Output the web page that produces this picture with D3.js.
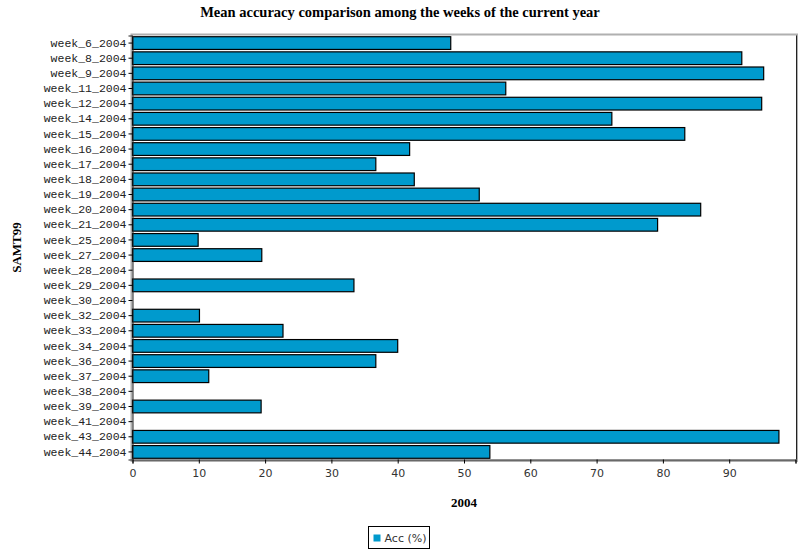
<!DOCTYPE html>
<html>
<head>
<meta charset="utf-8">
<script src="https://cdn.jsdelivr.net/npm/d3@7"></script>
<style>
  body { margin: 0; background: #fff; }
  svg { display: block; }
</style>
</head>
<body>
<script>
var weeks = ["week_6_2004", "week_8_2004", "week_9_2004", "week_11_2004", "week_12_2004",
  "week_14_2004", "week_15_2004", "week_16_2004", "week_17_2004", "week_18_2004",
  "week_19_2004", "week_20_2004", "week_21_2004", "week_25_2004", "week_27_2004",
  "week_28_2004", "week_29_2004", "week_30_2004", "week_32_2004", "week_33_2004",
  "week_34_2004", "week_36_2004", "week_37_2004", "week_38_2004", "week_39_2004",
  "week_41_2004", "week_43_2004", "week_44_2004"];
var acc = [48.0, 91.9, 95.2, 56.3, 94.9,
  72.3, 83.3, 41.8, 36.7, 42.5,
  52.3, 85.7, 79.2, 9.9, 19.5,
  0, 33.4, 0, 10.1, 22.7,
  40.0, 36.7, 11.5, 0, 19.4,
  0, 97.5, 53.9];
var xTicks = [0, 10, 20, 30, 40, 50, 60, 70, 80, 90, 100];

var width = 800,
  height = 555,
  plotLeft = 132.5,
  plotRight = 795.5,
  plotTop = 35.5,
  plotBottom = 459.5;

var svg = d3.select('body')
  .append('svg')
  .attr('width', width)
  .attr('height', height);

svg.append('text')
  .attr('x', 400)
  .attr('y', 17)
  .attr('text-anchor', 'middle')
  .style('font-family', '"Liberation Serif", serif')
  .style('font-weight', 'bold')
  .style('font-size', '14.5px')
  .text('Mean accuracy comparison among the weeks of the current year');

var xScale = d3.scaleLinear().domain([0, 100]).range([plotLeft, plotRight]);
var yScale = d3.scaleBand().domain(weeks).range([plotTop, plotBottom]).paddingInner(0.16).paddingOuter(0.08);

// plot frame
svg.append('rect')
  .attr('x', plotLeft - 1)
  .attr('y', plotTop - 1)
  .attr('width', plotRight - plotLeft + 2.5)
  .attr('height', plotBottom - plotTop + 2.5)
  .attr('fill', '#fff')
  .attr('stroke', '#b0b0b0')
  .attr('stroke-width', 2);
svg.append('line')
  .attr('x1', plotRight + 1).attr('x2', plotRight + 1)
  .attr('y1', plotTop).attr('y2', plotBottom)
  .attr('stroke', '#222');

svg.selectAll('rect.bar')
  .data(acc)
  .enter()
  .append('rect')
  .attr('class', 'bar')
  .attr('x', xScale(0))
  .attr('y', (d, i) => yScale(weeks[i]))
  .attr('width', d => xScale(d) - xScale(0))
  .attr('height', yScale.bandwidth())
  .attr('fill', '#009acd')
  .attr('stroke', d => d > 0 ? '#000' : 'none')
  .attr('stroke-width', 1.2);

var xAxis = d3.axisBottom(xScale)
  .tickValues(xTicks)
  .tickSize(4)
  .tickPadding(6)
  .tickFormat(d => d < 100 ? d : '');
var gx = svg.append('g')
  .attr('transform', 'translate(0,' + plotBottom + ')')
  .call(xAxis);
gx.select('.domain').attr('stroke', '#222');
gx.selectAll('text')
  .style('font-family', '"DejaVu Sans", sans-serif')
  .style('font-size', '11px')
  .attr('fill', '#333');

var yAxis = d3.axisLeft(yScale).tickSize(4).tickPadding(2);
var gy = svg.append('g')
  .attr('transform', 'translate(' + plotLeft + ',0)')
  .call(yAxis);
gy.select('.domain').attr('stroke', '#222');
gy.selectAll('text')
  .style('font-family', '"Liberation Mono", monospace')
  .style('font-size', '11.5px')
  .attr('fill', '#222');

svg.append('text')
  .attr('transform', 'translate(21,' + ((plotTop + plotBottom) / 2) + ') rotate(-90)')
  .attr('text-anchor', 'middle')
  .style('font-family', '"Liberation Serif", serif')
  .style('font-weight', 'bold')
  .style('font-size', '13px')
  .text('SAMT99');

svg.append('text')
  .attr('x', (plotLeft + plotRight) / 2)
  .attr('y', 507)
  .attr('text-anchor', 'middle')
  .style('font-family', '"Liberation Serif", serif')
  .style('font-weight', 'bold')
  .style('font-size', '13px')
  .text('2004');

// legend
var legend = svg.append('g').attr('transform', 'translate(368.5,526.5)');
legend.append('rect')
  .attr('width', 61)
  .attr('height', 22)
  .attr('fill', '#fff')
  .attr('stroke', '#000');
legend.append('rect')
  .attr('x', 5).attr('y', 8)
  .attr('width', 7).attr('height', 7)
  .attr('fill', '#009acd');
legend.append('text')
  .attr('x', 16).attr('y', 15.5)
  .style('font-family', '"DejaVu Sans", sans-serif')
  .style('font-size', '11px')
  .attr('fill', '#333')
  .text('Acc (%)');
</script>
</body>
</html>
